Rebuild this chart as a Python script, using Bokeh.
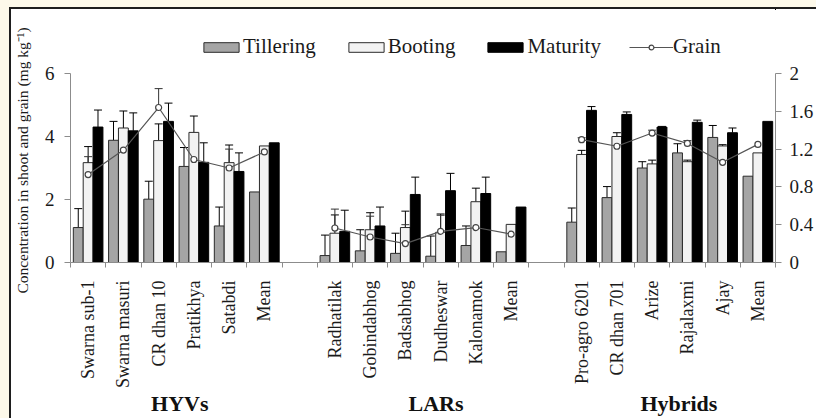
import math

from bokeh.embed import file_html
from bokeh.layouts import column, row
from bokeh.models import (ColumnDataSource, FixedTicker, Label, Legend, LegendItem,
                          LinearAxis, Range1d, TeeHead, Whisker)
from bokeh.plotting import figure
from bokeh.resources import INLINE

# ---- data -------------------------------------------------------------
groups = ["HYVs", "LARs", "Hybrids"]

cultivars_hyv = ["Swarna sub-1", "Swarna masuri", "CR dhan 10", "Pratikhya", "Satabdi", "Mean"]
cultivars_lar = ["Radhatilak", "Gobindabhog", "Badsabhog", "Dudheswar", "Kalonamok", "Mean"]
cultivars_hyb = ["Pro-agro 6201", "CR dhan 701", "Arize", "Rajalaxmi", "Ajay", "Mean"]

# shoot concentration (mg kg-1) at three growth stages, with SE
tillering_hyv = [1.11, 3.88, 2.01, 3.05, 1.16, 2.24]
tillering_hyv_se = [0.60, 0.60, 0.57, 0.60, 0.60, 0.0]
booting_hyv = [3.17, 4.27, 3.87, 4.13, 3.17, 3.70]
booting_hyv_se = [0.51, 0.54, 0.53, 0.52, 0.56, 0.0]
maturity_hyv = [4.30, 4.18, 4.48, 3.18, 2.89, 3.80]
maturity_hyv_se = [0.54, 0.57, 0.58, 0.62, 0.59, 0.0]

tillering_lar = [0.22, 0.37, 0.29, 0.20, 0.54, 0.34]
tillering_lar_se = [0.65, 0.67, 0.64, 0.64, 0.62, 0.0]
booting_lar = [0.93, 1.04, 1.11, 0.96, 1.93, 1.21]
booting_lar_se = [0.58, 0.54, 0.52, 0.58, 0.43, 0.0]
maturity_lar = [0.99, 1.16, 2.16, 2.28, 2.19, 1.76]
maturity_lar_se = [0.67, 0.60, 0.55, 0.55, 0.52, 0.0]

tillering_hyb = [1.28, 2.06, 3.00, 3.48, 3.97, 2.74]
tillering_hyb_se = [0.45, 0.35, 0.20, 0.29, 0.38, 0.0]
booting_hyb = [3.43, 4.00, 3.13, 3.20, 3.70, 3.48]
booting_hyb_se = [0.13, 0.12, 0.12, 0.05, 0.04, 0.0]
maturity_hyb = [4.83, 4.70, 4.30, 4.45, 4.12, 4.48]
maturity_hyb_se = [0.12, 0.08, 0.02, 0.07, 0.15, 0.0]

# grain concentration (mg kg-1), right axis
grain_hyv = [0.93, 1.19, 1.64, 1.09, 1.00, 1.17]
grain_hyv_se = [0.19, 0.10, 0.20, 0.15, 0.20, 0.0]
grain_lar = [0.365, 0.27, 0.20, 0.33, 0.37, 0.30]
grain_lar_se = [0.20, 0.22, 0.20, 0.17, 0.19, 0.0]
grain_hyb = [1.30, 1.23, 1.37, 1.26, 1.06, 1.25]
grain_hyb_se = [0.02, 0.02, 0.03, 0.03, 0.02, 0.0]

left_ticks = [0, 2, 4, 6]
right_ticks = [0, 0.4, 0.8, 1.2, 1.6, 2]
y_title = "Concentration in shoot and grain (mg kg\u207b\u00b9)"

# ---- assemble ---------------------------------------------------------
FONT = "Liberation Serif"
SLOTS_PER_GROUP = 7  # six cultivars plus one empty slot
BAR_W = 0.28
TITLE_W = 30
PLOT_W = 775
KEY_H = 55
MAIN_H = 354

cultivars = [cultivars_hyv, cultivars_lar, cultivars_hyb]
stages = {
    "Tillering": ([tillering_hyv, tillering_lar, tillering_hyb],
                  [tillering_hyv_se, tillering_lar_se, tillering_hyb_se]),
    "Booting": ([booting_hyv, booting_lar, booting_hyb],
                [booting_hyv_se, booting_lar_se, booting_hyb_se]),
    "Maturity": ([maturity_hyv, maturity_lar, maturity_hyb],
                 [maturity_hyv_se, maturity_lar_se, maturity_hyb_se]),
}
stage_style = {
    "Tillering": dict(fill_color="#a5a5a5", line_color="#2a2a2a"),
    "Booting": dict(fill_color="#f2f2f2", line_color="#2a2a2a"),
    "Maturity": dict(fill_color="#000000", line_color="#000000"),
}
stage_dx = {"Tillering": -BAR_W, "Booting": 0.0, "Maturity": BAR_W}
grain_line_style = dict(line_color="#555555", line_width=1.2)
grain_marker_style = dict(marker="circle", size=6, fill_color="white",
                          line_color="#444444", line_width=1.2)
grains = [grain_hyv, grain_lar, grain_hyb]
grains_se = [grain_hyv_se, grain_lar_se, grain_hyb_se]

centers, labels = [], []
for g, names in enumerate(cultivars):
    for i, name in enumerate(names):
        centers.append(g * SLOTS_PER_GROUP + i + 0.5)
        labels.append(name)
n_slots = SLOTS_PER_GROUP * len(groups) - 1

fig = figure(width=PLOT_W, height=MAIN_H, x_range=Range1d(0, n_slots), y_range=Range1d(0, 6),
             output_backend="svg", toolbar_location=None,
             x_axis_type=None, y_axis_type=None,
             min_border_left=29, min_border_right=38, min_border_top=9, min_border_bottom=145)
fig.extra_y_ranges = {"grain": Range1d(0, 2)}
fig.outline_line_color = None
fig.background_fill_color = "white"
fig.border_fill_color = "white"

bar_sources = {}
for stage, (vals, ses) in stages.items():
    xs, tops = [], []
    ex, elo, ehi = [], [], []
    for g in range(len(groups)):
        for i, (v, se) in enumerate(zip(vals[g], ses[g])):
            x = g * SLOTS_PER_GROUP + i + 0.5 + stage_dx[stage]
            xs.append(x)
            tops.append(v)
            if se > 0:
                ex.append(x)
                elo.append(v)
                ehi.append(v + se)
    bar_sources[stage] = ColumnDataSource(dict(x=xs, top=tops))
    fig.vbar(x="x", top="top", width=BAR_W, bottom=0, line_width=1,
             source=bar_sources[stage], **stage_style[stage])
    fig.add_layout(Whisker(source=ColumnDataSource(dict(x=ex, lower=elo, upper=ehi)),
                           base="x", lower="lower", upper="upper",
                           line_color="black", line_width=1,
                           upper_head=TeeHead(size=8, line_color="black", line_width=1),
                           lower_head=None))

# grain line, broken between groups
gx, gy, ex, elo, ehi = [], [], [], [], []
for g in range(len(groups)):
    for i, (v, se) in enumerate(zip(grains[g], grains_se[g])):
        x = g * SLOTS_PER_GROUP + i + 0.5
        gx.append(x)
        gy.append(v)
        if se > 0:
            ex.append(x)
            elo.append(v)
            ehi.append(v + se)
    if g < len(groups) - 1:
        gx.append(float("nan"))
        gy.append(float("nan"))
gsrc = ColumnDataSource(dict(x=gx, y=gy))
fig.add_layout(Whisker(source=ColumnDataSource(dict(x=ex, lower=elo, upper=ehi)),
                       base="x", lower="lower", upper="upper", y_range_name="grain",
                       line_color="#333333", line_width=1,
                       upper_head=TeeHead(size=8, line_color="#333333", line_width=1),
                       lower_head=None))
fig.line("x", "y", source=gsrc, y_range_name="grain", **grain_line_style)
fig.scatter("x", "y", source=gsrc, y_range_name="grain", **grain_marker_style)

# ---- axes -------------------------------------------------------------
def style_value_axis(ax):
    ax.axis_line_color = "#8c8c8c"
    ax.major_tick_line_color = "#8c8c8c"
    ax.major_tick_in = 0
    ax.major_tick_out = 6
    ax.minor_tick_line_color = None
    ax.major_label_text_font = FONT
    ax.major_label_text_font_size = "19px"
    ax.major_label_text_color = "#1a1a1a"

left = LinearAxis(ticker=FixedTicker(ticks=left_ticks))
style_value_axis(left)
left.major_label_standoff = 10
fig.add_layout(left, "left")

right = LinearAxis(y_range_name="grain", ticker=FixedTicker(ticks=right_ticks),
                   major_label_overrides={float(t): f"{t:g}" for t in right_ticks})
style_value_axis(right)
right.major_label_standoff = 8
fig.add_layout(right, "right")

# cultivar names under each slot, tick marks on slot boundaries
bottom = LinearAxis(ticker=FixedTicker(ticks=centers, minor_ticks=list(range(n_slots + 1))),
                    major_label_overrides={float(c): lab for c, lab in zip(centers, labels)})
bottom.axis_line_color = "#8c8c8c"
bottom.major_tick_line_color = None
bottom.major_tick_in = 0
bottom.major_tick_out = 0
bottom.minor_tick_line_color = "#8c8c8c"
bottom.minor_tick_in = 0
bottom.minor_tick_out = 5
bottom.major_label_orientation = math.pi / 2
bottom.major_label_standoff = 13
bottom.major_label_text_font = FONT
bottom.major_label_text_font_size = "18px"
bottom.major_label_text_color = "#1a1a1a"
fig.add_layout(bottom, "below")

# group names on a second row below the cultivar names
group_pos = [g * SLOTS_PER_GROUP + 3 + shift for g, shift in enumerate([0.1, 0.37, 0.26])]
group_axis = LinearAxis(ticker=FixedTicker(ticks=group_pos),
                        major_label_overrides={float(x): name for x, name in zip(group_pos, groups)})
group_axis.axis_line_color = None
group_axis.major_tick_line_color = None
group_axis.minor_tick_line_color = None
group_axis.major_tick_in = 0
group_axis.major_tick_out = 0
group_axis.major_label_standoff = 0
group_axis.major_label_text_font = FONT
group_axis.major_label_text_font_size = "22px"
group_axis.major_label_text_font_style = "bold"
group_axis.major_label_text_color = "#111111"
fig.add_layout(group_axis, "below")

# ---- key strip above the plot (same sources, viewed off-range) ---------
key = figure(width=PLOT_W, height=KEY_H, x_range=Range1d(-3, -2), y_range=Range1d(-3, -2),
             output_backend="svg", toolbar_location=None,
             x_axis_type=None, y_axis_type=None, min_border=0)
key.outline_line_color = None
key.background_fill_color = "white"
key.border_fill_color = "white"
key_items = []
for stage in stages:
    r = key.vbar(x="x", top="top", width=BAR_W, bottom=0, line_width=1,
                 source=bar_sources[stage], **stage_style[stage])
    key_items.append(LegendItem(label=stage, renderers=[r]))
kl = key.line("x", "y", source=gsrc, **grain_line_style)
km = key.scatter("x", "y", source=gsrc, **grain_marker_style)
key_items.append(LegendItem(label="Grain", renderers=[kl, km]))

legend = Legend(items=key_items, orientation="horizontal", location=(129, 5),
                glyph_width=44, glyph_height=12, label_standoff=0, spacing=28,
                padding=0, margin=0, border_line_color=None, background_fill_alpha=0,
                label_text_font=FONT, label_text_font_size="21px",
                label_text_color="#1a1a1a", label_height=24)
key.add_layout(legend)

# ---- vertical axis title strip -----------------------------------------
title_strip = figure(width=TITLE_W, height=KEY_H + MAIN_H, x_range=Range1d(0, 1),
                     y_range=Range1d(0, 1), output_backend="svg", toolbar_location=None,
                     x_axis_type=None, y_axis_type=None, min_border=0)
title_strip.outline_line_color = None
title_strip.background_fill_color = "white"
title_strip.border_fill_color = "white"
title_strip.add_layout(Label(x=11, y=258, x_units="screen", y_units="screen",
                             angle=math.pi / 2, text=y_title, text_font=FONT,
                             text_font_size="15.5px", text_color="#1a1a1a",
                             text_align="center", text_baseline="middle"))

# white sheet inside a dark rule, on a cream page
sheet = row(title_strip, column(key, fig, spacing=0), spacing=0,
            styles={"background-color": "white"})
framed = column(sheet, styles={"background-color": "#1e1e1e", "padding": "2px 0 0 2px"})
p = column(framed, styles={"background-color": "#fdf9ea", "padding": "7px 0 0 9px"})

open("out.html", "w").write(file_html(p, INLINE))
